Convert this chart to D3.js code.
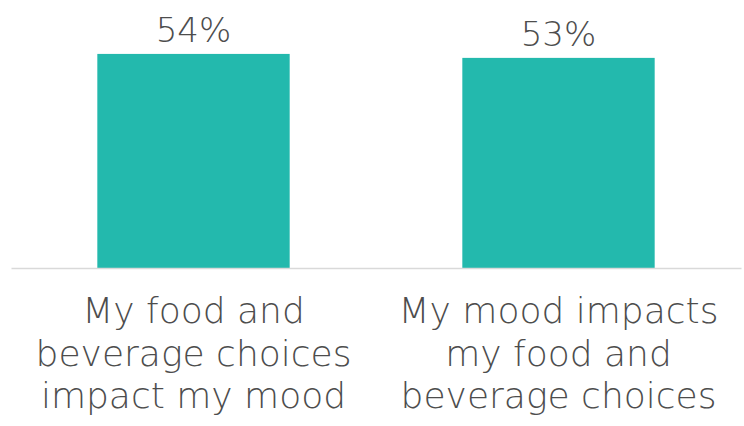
<!DOCTYPE html>
<html><head><meta charset="utf-8">
<script src="https://cdn.jsdelivr.net/npm/d3@7/dist/d3.min.js"></script>
<style>html,body{margin:0;padding:0;background:#fff;}svg{display:block;}</style>
</head><body>
<svg id="chart" width="744" height="426"></svg>
<script>
const categories = ["My food and beverage choices impact my mood", "My mood impacts my food and beverage choices"];
const categoryLines = [["My food and", "beverage choices", "impact my mood"], ["My mood impacts", "my food and", "beverage choices"]];
const values = [54, 53];
const valueLabels = ["54%", "53%"];

const W = 744, H = 426;
const svg = d3.select("#chart");
const font = "'DejaVu Sans', sans-serif";
const textColor = "#4d4d4d";

const x = d3.scaleBand().domain(categories).range([11, 741]).paddingInner(0.473).paddingOuter(0.2365);
const y = d3.scaleLinear().domain([0, 67.6]).range([268, 0]);

svg.selectAll("rect.bar").data(values).join("rect")
  .attr("class", "bar")
  .attr("x", (d, i) => x(categories[i]))
  .attr("width", x.bandwidth())
  .attr("y", d => y(d))
  .attr("height", d => y(0) - y(d))
  .attr("fill", "#23b9ad");

const axis = svg.append("g").attr("transform", `translate(0,${y(0)})`)
  .call(d3.axisBottom(x).tickSize(0).tickFormat(""));
axis.select(".domain").attr("stroke", "#d9d9d9").attr("stroke-width", 1.5);
axis.selectAll(".tick").each(function(d, i) {
  const g = d3.select(this);
  categoryLines[i].forEach((line, j) => {
    g.append("text")
      .attr("x", 0).attr("y", 55 + j * 42.5)
      .attr("text-anchor", "middle")
      .attr("fill", textColor)
      .style("font-family", font)
      .style("font-weight", 200)
      .style("font-size", "36px")
      .text(line);
  });
});

svg.selectAll("text.val").data(values).join("text")
  .attr("class", "val")
  .attr("x", (d, i) => x(categories[i]) + x.bandwidth() / 2)
  .attr("y", d => y(d) - 12)
  .attr("text-anchor", "middle")
  .attr("fill", textColor)
  .style("font-family", font)
  .style("font-weight", 200)
  .style("font-size", "34px")
  .text((d, i) => valueLabels[i]);
</script>
</body></html>
